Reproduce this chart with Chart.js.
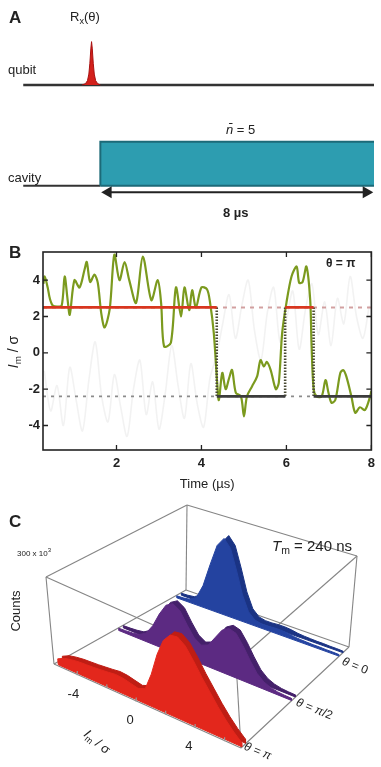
<!DOCTYPE html>
<html>
<head>
<meta charset="utf-8">
<script src="https://cdn.jsdelivr.net/npm/chart.js@4.4.0/dist/chart.umd.min.js"></script>
<style>
  body { margin: 0; width: 381px; height: 767px; overflow: hidden; position: relative; background: #fff;
         font-family: "Liberation Sans", Arial, sans-serif; color: #222; }
  canvas { position: absolute; left: 0; }
  .t { position: absolute; white-space: nowrap; line-height: 1; }
  .t sub { font-size: 70%; vertical-align: -0.3em; line-height: 0; }
  .panel { font-weight: bold; font-size: 17px; }
</style>
</head>
<body>
<canvas id="chartA" width="381" height="240" style="top:0"></canvas>
<canvas id="chartB" width="381" height="255" style="top:240px"></canvas>
<canvas id="chartC" width="381" height="287" style="top:480px"></canvas>

<div class="t panel" style="left:9px;top:9px">A</div>
<div class="t" style="left:70px;top:10px;font-size:13px">R<sub>x</sub>(θ)</div>
<div class="t" style="left:8px;top:63px;font-size:13px">qubit</div>
<div class="t" style="left:8px;top:171px;font-size:13px">cavity</div>
<div class="t" style="left:226px;top:123px;font-size:13px"><i>n̄</i> = 5</div>
<div class="t" style="left:223px;top:206px;font-size:13px;font-weight:bold">8 µs</div>

<div class="t panel" style="left:9px;top:244px">B</div>
<div class="t" style="left:326px;top:257px;font-size:12px;font-weight:bold">θ = π</div>
<div class="t" style="left:13px;top:352px;font-size:14px;transform:translate(-50%,-50%) rotate(-90deg)"><i>I</i><sub>m</sub> / σ</div>

<div class="t panel" style="left:9px;top:513px">C</div>
<div class="t" style="left:17px;top:547px;font-size:8px">300 x 10<sup style="font-size:6px">3</sup></div>
<div class="t" style="left:15px;top:611px;font-size:13px;transform:translate(-50%,-50%) rotate(-90deg)">Counts</div>
<div class="t" style="left:272px;top:538px;font-size:15px"><i>T</i><sub>m</sub> = 240 ns</div>
<div class="t" style="left:345px;top:655px;font-size:12px;transform:rotate(22deg);transform-origin:0 0"><i>θ</i> = 0</div>
<div class="t" style="left:299px;top:696px;font-size:12px;transform:rotate(22deg);transform-origin:0 0"><i>θ</i> = <i>π</i>/2</div>
<div class="t" style="left:247px;top:740px;font-size:12px;transform:rotate(22deg);transform-origin:0 0"><i>θ</i> = <i>π</i></div>
<div class="t" style="left:90px;top:727px;font-size:13px;transform:rotate(40deg);transform-origin:0 0"><i>I</i><sub>m</sub> / σ</div>

<script>
// ---------- panel A : pulse sequence ----------
const pulseT = [-0.54, -0.44, -0.38, -0.34, -0.31, -0.28, -0.26, -0.24, -0.21, -0.18, -0.14, -0.08, 0.0];
const pulseA = [0, 0.03, 0.1, 0.25, 0.5, 0.85, 1, 0.85, 0.5, 0.25, 0.1, 0.03, 0];
const cavityStart = 0;
const cavityLength = 8;       // µs
const cavityAmp = 1.02;

// ---------- panel B : single trajectory ----------
const traceT = [0.28, 0.31, 0.38, 0.43, 0.5, 0.6, 0.71, 0.78, 0.85, 0.9, 1.01, 1.13, 1.25, 1.3, 1.38, 1.48, 1.56, 1.64,
  1.72, 1.84, 1.95, 2.07, 2.19, 2.3, 2.46, 2.62, 2.82, 2.97, 3.05, 3.12, 3.28, 3.4, 3.52, 3.6, 3.71, 3.78, 3.87, 4.0,
  4.13, 4.2, 4.29, 4.37, 4.41, 4.49, 4.57, 4.65, 4.72, 4.81, 4.93, 5.0, 5.07, 5.19, 5.31, 5.39, 5.47, 5.54, 5.63, 5.75,
  5.82, 5.9, 6.0, 6.12, 6.24, 6.3, 6.38, 6.47, 6.56, 6.59, 6.64, 6.71, 6.83, 6.92, 6.99, 7.06, 7.15, 7.27, 7.34, 7.41,
  7.53, 7.62, 7.73, 7.85, 7.97, 8.0];
const traceV = [3.8, 4.2, 3.6, 3.0, 2.6, 2.55, 2.6, 4.2, 2.9, 2.1, 4.0, 3.6, 4.6, 5.0, 3.9, 4.3, 3.85, 2.2,
  1.4, 2.4, 5.4, 4.0, 5.0, 4.0, 2.75, 5.3, 2.9, 4.0, 2.75, 0.35, 0.55, 3.6, 2.0, 3.6, 2.35, 3.45, 2.5, 3.6,
  3.5, 2.8, 1.1, -1.65, -2.6, -1.1, -2.0, -1.4, -0.95, -2.2, -2.4, -3.5, -2.4, -1.85, -1.3, -0.4, -0.75, -0.5, -0.95, -2.0,
  -1.65, 1.1, 2.75, 4.2, 4.75, 3.85, 3.9, 4.75, 2.9, 0.55, -2.0, -2.4, -2.4, -1.5, -2.2, -2.75, -2.6, -1.1, -0.95, -1.3,
  -2.4, -3.3, -3.0, -3.15, -2.4, -2.1];
const grayT = [0.3, 0.45, 0.6, 0.75, 0.9, 1.05, 1.2, 1.35, 1.5, 1.65, 1.8, 1.95, 2.1, 2.25, 2.4, 2.55, 2.7, 2.85, 3.0,
  3.15, 3.3, 3.45, 3.6, 3.75, 3.9, 4.05, 4.2, 4.35, 4.5, 4.65, 4.8, 4.95, 5.1, 5.25, 5.4, 5.55, 5.7, 5.85, 6.0, 6.15,
  6.3, 6.45, 6.6, 6.75, 6.9, 7.05, 7.2, 7.35, 7.5, 7.65, 7.8, 7.95];
const grayV = [-1.0, -3.2, -1.8, -4.0, -0.8, -2.6, -4.3, -1.5, 0.6, -2.4, -3.8, -1.2, -3.0, -4.6, -2.0, -0.4, -3.4, -1.6,
  -4.2, -2.2, 0.4, -1.8, -3.6, -0.6, -2.8, -4.1, -1.4, -0.2, 1.6, 3.2, 0.8, 2.6, 4.0, 1.2, -0.4, 2.2, 3.6, 0.6, 1.8, 3.4,
  0.2, 2.4, 3.8, 1.0, 2.8, 0.4, 3.0, 1.6, 4.2, 2.0, 0.8, 2.6];
const jumpT = [0.27, 4.36, 5.97, 6.64, 8.0];      // segment boundaries of the state estimate
const jumpState = ['up', 'down', 'up', 'down'];
const upLevel = 2.5;
const downLevel = -2.4;
const xTicksB = [2, 4, 6, 8];
const yTicksB = [-4, -2, 0, 2, 4];

// ---------- panel C : histograms ----------
const histI = [-5.5, -5, -4.5, -4, -3.5, -3, -2.5, -2, -1.5, -1, -0.5, 0, 0.5, 1, 1.5, 2, 2.5, 3, 3.5, 4, 4.5, 5,
  5.5, 6, 6.5, 7];
const countsPi = [15e3, 28e3, 34e3, 38e3, 40e3, 42e3, 45e3, 48e3, 52e3, 50e3, 44e3, 38e3, 48e3, 110e3, 190e3, 250e3,
  280e3, 285e3, 265e3, 225e3, 180e3, 140e3, 100e3, 65e3, 35e3, 10e3];
const countsHalfPi = [3e3, 4e3, 6e3, 10e3, 25e3, 60e3, 110e3, 150e3, 165e3, 150e3, 110e3, 75e3, 60e3, 70e3, 105e3,
  140e3, 155e3, 148e3, 115e3, 75e3, 40e3, 20e3, 10e3, 5e3, 3e3, 2e3];
const countsZero = [2e3, 3e3, 6e3, 20e3, 70e3, 150e3, 225e3, 257e3, 230e3, 160e3, 85e3, 35e3, 15e3, 10e3, 10e3, 12e3,
  12e3, 10e3, 6e3, 4e3, 3e3, 2e3, 2e3, 1e3, 1e3, 0];
const iTicksC = [-4, -2, 0, 2, 4, 6];
const iLabelsC = [-4, 0, 4];

const common = {
  responsive: false, animation: false, events: [],
  plugins: { legend: { display: false }, tooltip: { enabled: false } }
};
const line = (data, color, width, extra) => Object.assign({
  data, borderColor: color, borderWidth: width, showLine: true, pointRadius: 0, fill: false
}, extra || {});

// ---------- A ----------
const qubitLevel = 2.33;
new Chart(document.getElementById('chartA'), {
  type: 'scatter',
  data: { datasets: [
    line([{ x: -2.28, y: qubitLevel }, { x: 8.3, y: qubitLevel }], '#333', 2.5, { order: 2 }),
    line(pulseT.map((t, i) => ({ x: t, y: qubitLevel + pulseA[i] })), '#a81010', 1,
      { backgroundColor: '#d3201b', fill: { value: qubitLevel }, order: 1 }),
    line([{ x: -2.28, y: 0 }, { x: cavityStart, y: 0 }], '#333', 2, { order: 3 }),
    line([{ x: cavityStart, y: 0 }, { x: cavityStart, y: cavityAmp }, { x: 8.4, y: cavityAmp }, { x: 8.4, y: 0 },
      { x: cavityStart, y: 0 }], '#1c6a78', 2, { backgroundColor: '#2d9db0', fill: 'shape', order: 1 }),
    line([{ x: cavityStart + 0.23, y: -0.15 }, { x: cavityStart + cavityLength - 0.14, y: -0.15 }], '#222', 2,
      { pointRadius: 5, pointStyle: 'triangle', pointRotation: [-90, 90], pointBackgroundColor: '#222',
        pointBorderColor: '#222', order: 0 })
  ] },
  options: Object.assign({}, common, {
    layout: { padding: 0 },
    scales: { x: { display: false, min: -2.76, max: 8.09 }, y: { display: false, min: -1.09, max: 4.13 } }
  })
});

// ---------- B ----------
const frame = {
  id: 'frame',
  afterDatasetsDraw(chart) {
    const { ctx, chartArea: a, scales: { x, y } } = chart;
    ctx.save();
    ctx.strokeStyle = '#222';
    ctx.lineWidth = 1.6;
    ctx.strokeRect(a.left, a.top, a.right - a.left, a.bottom - a.top);
    ctx.lineWidth = 1.3;
    ctx.beginPath();
    xTicksB.forEach(v => {
      const px = x.getPixelForValue(v);
      ctx.moveTo(px, a.bottom); ctx.lineTo(px, a.bottom - 5);
      ctx.moveTo(px, a.top); ctx.lineTo(px, a.top + 5);
    });
    yTicksB.forEach(v => {
      const py = y.getPixelForValue(v);
      ctx.moveTo(a.left, py); ctx.lineTo(a.left + 5, py);
      ctx.moveTo(a.right, py); ctx.lineTo(a.right - 5, py);
    });
    ctx.stroke();
    ctx.restore();
  }
};
const stateSets = [];
jumpState.forEach((s, i) => {
  const lvl = s === 'up' ? upLevel : downLevel;
  stateSets.push(line([{ x: jumpT[i], y: lvl }, { x: jumpT[i + 1], y: lvl }],
    s === 'up' ? '#d8361f' : '#3c3c3c', 2.6, { order: 0 }));
  if (i > 0) {
    stateSets.push(line([{ x: jumpT[i], y: upLevel }, { x: jumpT[i], y: downLevel }], '#4a4a34', 2.6,
      { borderDash: [1.5, 1.5], order: 1 }));
  }
});
new Chart(document.getElementById('chartB'), {
  type: 'scatter',
  data: { datasets: [
    line(grayT.map((t, i) => ({ x: t, y: grayV[i] })), 'rgba(185,185,185,0.18)', 1.6, { tension: 0.3, order: 5 }),
    line([{ x: 0.27, y: downLevel }, { x: 8, y: downLevel }], '#8c8c8c', 1.6, { borderDash: [3, 5], order: 4 }),
    line([{ x: 0.27, y: upLevel }, { x: 8, y: upLevel }], 'rgba(205,150,150,0.9)', 2, { borderDash: [4, 5], order: 4 }),
    line(traceT.map((t, i) => ({ x: t, y: traceV[i] })), '#7b9a1e', 2.2, { tension: 0.3, order: 2 }),
    ...stateSets
  ] },
  options: Object.assign({}, common, {
    layout: { padding: { left: 0, right: 8, top: 12, bottom: 0 } },
    scales: {
      x: {
        type: 'linear', min: 0.27, max: 8,
        afterBuildTicks: s => { s.ticks = xTicksB.map(v => ({ value: v })); },
        afterFit: s => { s.height = 45; },
        grid: { display: false, drawTicks: false }, border: { display: false },
        ticks: { color: '#222', padding: 6, font: { family: 'Liberation Sans', size: 13, weight: 'bold' } },
        title: { display: true, text: 'Time (µs)', color: '#222', padding: { top: 0, bottom: 3 },
          font: { family: 'Liberation Sans', size: 13 } }
      },
      y: {
        type: 'linear', min: -5.35, max: 5.55,
        afterBuildTicks: s => { s.ticks = yTicksB.map(v => ({ value: v })); },
        afterFit: s => { s.width = 43; },
        grid: { display: false, drawTicks: false }, border: { display: false },
        ticks: { color: '#222', padding: 3, font: { family: 'Liberation Sans', size: 13, weight: 'bold' } }
      }
    }
  }),
  plugins: [frame]
});

// ---------- C : projected 3D box ----------
const boxI = [-5.6, 7.1];
const countsMax = 300e3;
const boxBot = { fl: [54, 664], fr: [241, 748], bl: [186, 590], br: [349, 647] };
const boxTop = { fl: [46, 577], fr: [236, 662], bl: [187, 505], br: [357, 556] };
const mix = (a, b, t) => [a[0] + (b[0] - a[0]) * t, a[1] + (b[1] - a[1]) * t];
function proj(I, w, c) {
  const u = (I - boxI[0]) / (boxI[1] - boxI[0]);
  const b = mix(mix(boxBot.fl, boxBot.fr, u), mix(boxBot.bl, boxBot.br, u), w);
  const t = mix(mix(boxTop.fl, boxTop.fr, u), mix(boxTop.bl, boxTop.br, u), w);
  const p = mix(b, t, c / countsMax);
  return { x: p[0], y: p[1] };
}
const slab = 5e3;
function face(counts, w) {
  const pts = histI.map((I, i) => proj(I, w, counts[i]));
  pts.push(proj(histI[histI.length - 1], w, -slab), proj(histI[0], w, -slab));
  pts.push(pts[0]);
  return pts;
}
const ribbons = [
  { counts: countsZero, w: 0.92, front: '#2443a0', back: '#1a3384' },
  { counts: countsHalfPi, w: 0.48, front: '#5c2a82', back: '#44206a' },
  { counts: countsPi, w: 0.02, front: '#e3271c', back: '#bf1d14' }
];
const edges = [
  [[boxI[0], 0, 0], [boxI[1], 0, 0]], [[boxI[1], 0, 0], [boxI[1], 1, 0]], [[boxI[1], 1, 0], [boxI[0], 1, 0]],
  [[boxI[0], 1, 0], [boxI[0], 0, 0]], [[boxI[0], 0, countsMax], [boxI[1], 0, countsMax]],
  [[boxI[1], 0, countsMax], [boxI[1], 1, countsMax]], [[boxI[1], 1, countsMax], [boxI[0], 1, countsMax]],
  [[boxI[0], 1, countsMax], [boxI[0], 0, countsMax]], [[boxI[0], 0, 0], [boxI[0], 0, countsMax]],
  [[boxI[1], 0, 0], [boxI[1], 0, countsMax]], [[boxI[1], 1, 0], [boxI[1], 1, countsMax]],
  [[boxI[0], 1, 0], [boxI[0], 1, countsMax]]
];
const cSets = edges.map(e => line(e.map(p => proj(...p)), '#858585', 1.1, { order: 20 }));
let ord = 19;
ribbons.forEach(r => {
  cSets.push(line(face(r.counts, r.w + 0.035), r.back, 1, { backgroundColor: r.back, fill: 'shape', order: ord-- }));
  cSets.push(line(face(r.counts, r.w), r.front, 1, { backgroundColor: r.front, fill: 'shape', order: ord-- }));
});
iTicksC.forEach(v => cSets.push(line([proj(v, 0, 0), proj(v, 0, 12e3)], '#9a9a9a', 1.2, { order: 0 })));
new Chart(document.getElementById('chartC'), {
  type: 'scatter',
  data: { datasets: cSets },
  options: Object.assign({}, common, {
    layout: { padding: 0 },
    scales: { x: { display: false, min: 0, max: 381 }, y: { display: false, min: 480, max: 767, reverse: true } }
  })
});
iLabelsC.forEach(v => {
  const p = proj(v, 0, 0);
  const d = document.createElement('div');
  d.className = 't';
  d.style.cssText = `left:${p.x - 10}px;top:${p.y + 12}px;font-size:13px`;
  d.textContent = v;
  document.body.appendChild(d);
});
</script>
</body>
</html>
